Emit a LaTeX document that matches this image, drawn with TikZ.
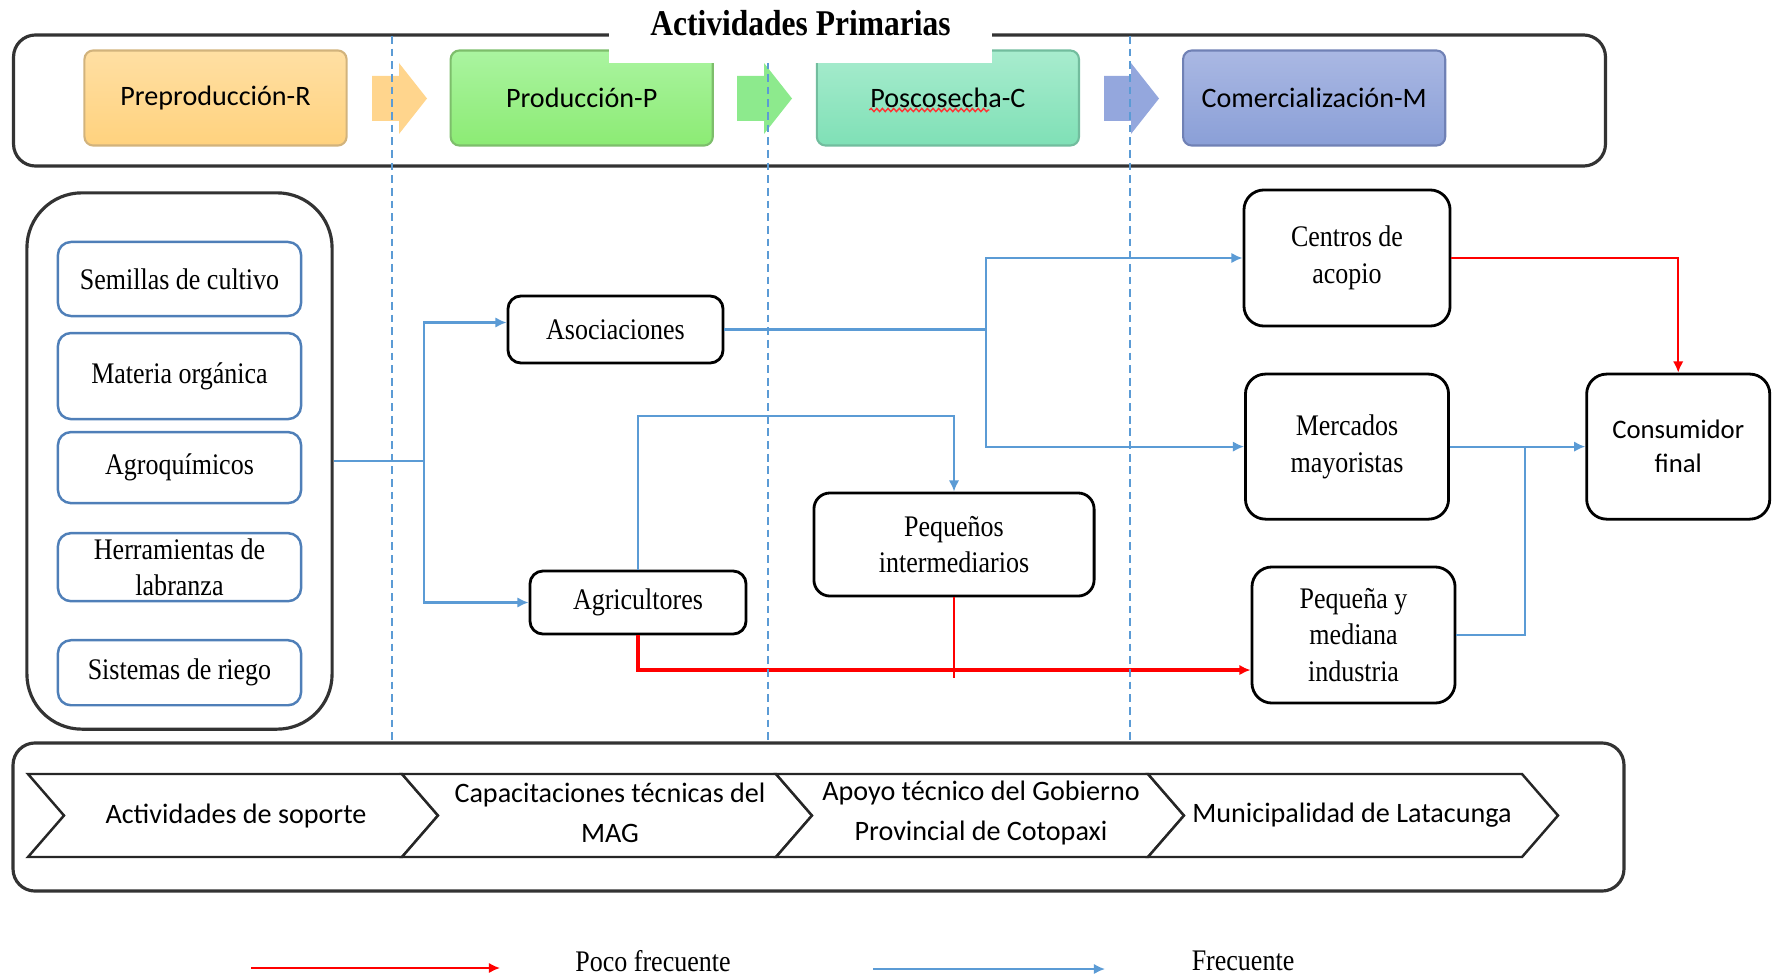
\documentclass[tikz,border=0pt]{standalone}
\usepackage{fontspec}
\setmainfont{Liberation Serif}[FakeStretch=0.87]
\newfontfamily\calib{Carlito}
\usetikzlibrary{arrows.meta, positioning, decorations.pathmorphing}

\definecolor{preptop}{HTML}{FFDFA3}
\definecolor{prepbot}{HTML}{FFD27E}
\definecolor{prepline}{HTML}{D2B37C}
\definecolor{prodtop}{HTML}{AAF4A0}
\definecolor{prodbot}{HTML}{8CEB74}
\definecolor{prodline}{HTML}{7DBE6B}
\definecolor{postop}{HTML}{A8ECCE}
\definecolor{posbot}{HTML}{7FE0B6}
\definecolor{posline}{HTML}{72BD9E}
\definecolor{comtop}{HTML}{AAB8E3}
\definecolor{combot}{HTML}{8A9FD7}
\definecolor{comline}{HTML}{7081B5}
\definecolor{arrowA}{HTML}{FFD58D}
\definecolor{arrowB}{HTML}{8DEA8D}
\definecolor{arrowC}{HTML}{94A7DD}
\definecolor{freqblue}{HTML}{5B9BD5}
\definecolor{inputblue}{HTML}{4F7FB8}

\newcommand{\netfont}{\fontsize{8.5}{10.4}\selectfont}

\begin{document}
\begin{tikzpicture}[x=0.01cm, y=-0.01cm, node distance=1cm, >={Latex[length=3.2pt, width=3pt]}]
 % We define the styles for the frames, the boxes and the lines
 \tikzset{
frame/.style = {draw=black!80, line width=0.9pt, rounded corners=0.22cm, inner sep=0pt},
phase/.style = {rectangle, rounded corners=2.5pt, line width=0.6pt, minimum width=2.62cm, minimum height=0.95cm, inner sep=0pt, font=\calib\fontsize{8}{9.6}\selectfont},
input/.style = {draw=inputblue, line width=0.7pt, rounded corners=0.13cm, minimum width=2.43cm, inner sep=0pt, align=center, font=\netfont},
actor/.style = {draw, line width=0.8pt, rounded corners=0.13cm, inner sep=0pt, align=center, font=\netfont},
chevron/.style = {draw=black!85, line width=0.7pt, fill=white},
support/.style = {inner sep=0pt, align=center, font=\calib\fontsize{8}{11.4}\selectfont},
guide/.style = {draw=freqblue, line width=0.6pt, dash pattern=on 2.2pt off 1.4pt},
freq/.style = {draw=freqblue, ->, line width=0.6pt},
rare/.style = {draw=red, ->, line width=0.6pt},
}
 \useasboundingbox (0,0) rectangle (1777,976);

 % Primary activities frame
 \node [frame, minimum width=15.91cm, minimum height=1.31cm] (primary) at (809.5,100.5) {};

 % Phase blocks
 \node [phase, draw=prepline, top color=preptop, bottom color=prepbot] (prep) at (215.5,98) {Preproducción-R};
 \node [phase, right of=prep, node distance=3.66cm, draw=prodline, top color=prodtop, bottom color=prodbot] (prod) {Producción-P};
 \node [phase, right of=prod, node distance=3.66cm, draw=posline, top color=postop, bottom color=posbot] (posc) {Poscosecha-C};
 \node [phase, right of=posc, node distance=3.66cm, draw=comline, top color=comtop, bottom color=combot] (com) {Comercialización-M};
 \draw [red!80, line width=0.4pt, decorate, decoration={snake, amplitude=0.45pt, segment length=1.6pt}] ([xshift=-0.785cm, yshift=-0.12cm]posc.center) -- ++(120,0);

 % Block arrows between the phases
 \path [fill=arrowA] (372,76) -- ++(27,0) -- ++(0,-13) -- ++(28,35.5) -- ++(-28,35.5) -- ++(0,-13) -- ++(-27,0) -- cycle;
 \path [fill=arrowB] (737,76) -- ++(27,0) -- ++(0,-13) -- ++(28,35.5) -- ++(-28,35.5) -- ++(0,-13) -- ++(-27,0) -- cycle;
 \path [fill=arrowC] (1104,76) -- ++(27,0) -- ++(0,-13) -- ++(28,35.5) -- ++(-28,35.5) -- ++(0,-13) -- ++(-27,0) -- cycle;

 % Inputs
 \node [frame, rounded corners=0.55cm, minimum width=3.05cm, minimum height=5.36cm] (inputs) at (179.5,461) {};
 \node [input, minimum height=0.74cm] (seeds) at (179.5,279) {Semillas de cultivo};
 \node [input, below of=seeds, node distance=0.97cm, minimum height=0.86cm] (organic) {Materia orgánica};
 \node [input, below of=organic, node distance=0.915cm, minimum height=0.71cm] (agrochem) {Agroquímicos};
 \node [input, below of=agrochem, node distance=0.995cm, minimum height=0.68cm] (tools) {Herramientas de\\labranza};
 \node [input, below of=tools, node distance=1.055cm, minimum height=0.65cm] (irrigation) {Sistemas de riego};

 % Actors of the chain
 \node [actor, minimum width=2.15cm, minimum height=0.67cm] (assoc) at (615.5,329.5) {Asociaciones};
 \node [actor, minimum width=2.16cm, minimum height=0.63cm] (farmers) at (638,602.5) {Agricultores};
 \node [actor, rounded corners=0.16cm, minimum width=2.80cm, minimum height=1.03cm] (brokers) at (954,544.5) {Pequeños\\intermediarios};
 \node [actor, rounded corners=0.2cm, minimum width=2.06cm, minimum height=1.36cm] (centers) at (1347,258) {Centros de\\acopio};
 \node [actor, rounded corners=0.2cm, below of=centers, node distance=1.885cm, minimum width=2.03cm, minimum height=1.45cm] (markets) {Mercados\\mayoristas};
 \node [actor, rounded corners=0.2cm, minimum width=2.03cm, minimum height=1.36cm] (industry) at (1353.5,635) {Pequeña y\\mediana\\industria};
 \node [actor, rounded corners=0.2cm, right of=markets, node distance=3.31cm, minimum width=1.83cm, minimum height=1.45cm, font=\calib\fontsize{7.6}{9.7}\selectfont] (consumer) {Consumidor\\final};

 % Frequent flows
 \coordinate [xshift=0.9cm] (fork) at (inputs.east);
 \draw [freq] (inputs.east) -- (fork) |- ([yshift=0.07cm]assoc.west);
 \draw [freq] (fork) |- (farmers.west);
 \coordinate [xshift=2.61cm] (hub) at (assoc.east);
 \draw [freq, -, line width=1.1pt] (assoc.east) -- (hub);
 \draw [freq] (hub) |- (centers.west);
 \draw [freq] (hub) |- (markets.west);
 \draw [freq] (farmers.north) -- ++(0,-154) -| (brokers.north);
 \draw [freq] (markets.east) -- (consumer.west);
 \draw [freq, -] (industry.east) -| ([xshift=0.75cm]markets.east);

 % Rare flows
 \draw [rare, line width=0.9pt] (farmers.south) |- ([yshift=-0.35cm]industry.west);
 \draw [rare, -] (brokers.south) -- ++(0,81);
 \draw [rare] (centers.east) -| (consumer.north);

 % Stage separators
 \draw [guide] (392,36) -- (392,743);
 \draw [guide] (768,36) -- (768,743);
 \draw [guide] (1130,36) -- (1130,743);

 % Support activities
 \node [frame, minimum width=16.10cm, minimum height=1.48cm] (support) at (818.5,817) {};
 \draw [chevron] (28,774) -- ++(374,0) -- ++(36,41.5) -- ++(-36,41.5) -- ++(-374,0) -- ++(36,-41.5) -- cycle;
 \node [support] (sup1) at (236,815.5) {Actividades de soporte};
 \draw [chevron] (402,774) -- ++(374,0) -- ++(36,41.5) -- ++(-36,41.5) -- ++(-374,0) -- ++(36,-41.5) -- cycle;
 \node [support] (sup2) at (610,813) {Capacitaciones técnicas del\\MAG};
 \draw [chevron] (776,774) -- ++(372,0) -- ++(36,41.5) -- ++(-36,41.5) -- ++(-372,0) -- ++(36,-41.5) -- cycle;
 \node [support] (sup3) at (981,813) {Apoyo técnico del Gobierno\\Provincial de Cotopaxi};
 \draw [chevron] (1148,774) -- ++(374,0) -- ++(36,41.5) -- ++(-36,41.5) -- ++(-374,0) -- ++(36,-41.5) -- cycle;
 \node [support] (sup4) at (1352,815.5) {Municipalidad de Latacunga};

 % Title over the frame
 \node [fill=white, minimum width=3.83cm, minimum height=0.63cm, inner sep=0pt] (titlebox) at (800.5,31.5) {};
 \node [anchor=base, inner sep=0pt, font=\fontsize{10.3}{12}\selectfont\bfseries] (title) at (800.5,36) {Actividades Primarias};

 % Legend
 \coordinate (rarefrom) at (251,968);
 \coordinate (rareto) at (500,968);
 \draw [rare] (rarefrom) -- (rareto);
 \node [font=\netfont] (rarelabel) at (653,961) {Poco frecuente};
 \coordinate (freqfrom) at (873,969);
 \coordinate (freqto) at (1105,969);
 \draw [freq] (freqfrom) -- (freqto);
 \node [font=\netfont] (freqlabel) at (1243,961) {Frecuente};

\end{tikzpicture}
\end{document}
